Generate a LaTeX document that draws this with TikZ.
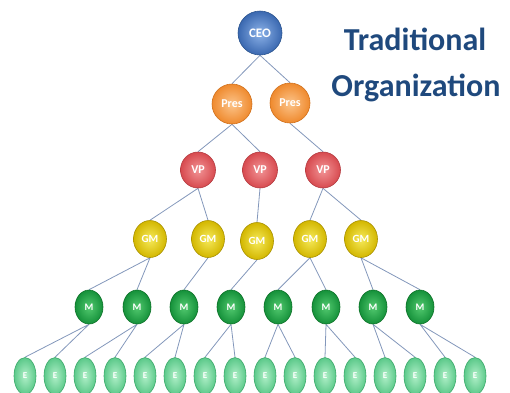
\documentclass[tikz,border=0pt]{standalone}
\usepackage{fontspec}
\setmainfont{Carlito}
\usetikzlibrary{shapes.geometric,backgrounds}
\definecolor{titleblue}{HTML}{1F497D}
\definecolor{linkblue}{HTML}{8397BB}
\definecolor{ceoA}{HTML}{8CB2E8}\definecolor{ceoB}{HTML}{3A68B0}\definecolor{ceoC}{HTML}{2C558F}
\definecolor{presA}{HTML}{FCC48A}\definecolor{presB}{HTML}{EF8A2E}\definecolor{presC}{HTML}{D0701C}
\definecolor{vpA}{HTML}{F29496}\definecolor{vpB}{HTML}{D74A4F}\definecolor{vpC}{HTML}{B33A3F}
\definecolor{gmA}{HTML}{F6EA5A}\definecolor{gmB}{HTML}{D3B700}\definecolor{gmC}{HTML}{A89100}
\definecolor{mA}{HTML}{52C96F}\definecolor{mB}{HTML}{15913A}\definecolor{mC}{HTML}{0E7229}
\definecolor{eA}{HTML}{B0EFC8}\definecolor{eB}{HTML}{5CC98A}\definecolor{eC}{HTML}{3DAA6C}
\tikzset{
  orgnode/.style={ellipse, inner sep=0pt, text=white, font=\bfseries},
  ceobox/.style={orgnode, minimum width=44pt, minimum height=44pt,
    inner color=ceoA, outer color=ceoB, draw=ceoC, line width=0.6pt, font=\bfseries\fontsize{13}{13}\selectfont},
  presbox/.style={orgnode, minimum width=40pt, minimum height=40pt,
    inner color=presA, outer color=presB, draw=presC, line width=0.6pt, font=\bfseries\fontsize{12}{12}\selectfont},
  vpbox/.style={orgnode, minimum width=35pt, minimum height=36pt,
    inner color=vpA, outer color=vpB, draw=vpC, line width=0.6pt, font=\bfseries\fontsize{12}{12}\selectfont},
  gmbox/.style={orgnode, minimum width=33pt, minimum height=37pt,
    inner color=gmA, outer color=gmB, draw=gmC, line width=0.6pt, font=\bfseries\fontsize{11}{11}\selectfont},
  mbox/.style={orgnode, minimum width=28pt, minimum height=34pt,
    inner color=mA, outer color=mB, draw=mC, line width=0.6pt, font=\bfseries\fontsize{10}{10}\selectfont},
  ebox/.style={orgnode, minimum width=22pt, minimum height=37pt,
    inner color=eA, outer color=eB, draw=eC, line width=0.6pt, font=\bfseries\fontsize{9}{9}\selectfont},
  link/.style={draw=linkblue, line width=0.8pt},
  titletext/.style={text=titleblue, font=\bfseries\fontsize{32}{32}\selectfont, anchor=base, inner sep=0pt}
}
\begin{document}
\begin{tikzpicture}[x=1pt,y=-1pt]
\useasboundingbox (0,0) rectangle (510,392);

% title
\node[titletext] (t1) at (415,50) {Traditional};
\node[titletext] (t2) at (416,96) {Organization};

% levels of the hierarchy
\node[ceobox] (ceo) at (260,33) {CEO};
\node[presbox] (p1) at (232,104) {Pres};
\node[presbox] (p2) at (290,103) {Pres};

\node[vpbox] (v1) at (198,170) {VP};
\node[vpbox] (v2) at (260,170) {VP};
\node[vpbox] (v3) at (323,170) {VP};

\node[gmbox] (g1) at (150,239) {GM};
\node[gmbox] (g2) at (208,239) {GM};
\node[gmbox] (g3) at (257,241) {GM};
\node[gmbox] (g4) at (310,239) {GM};
\node[gmbox] (g5) at (361,239) {GM};

\foreach \i/\x in {1/89,2/137,3/184,4/231,5/278,6/326,7/373,8/420}
  \node[mbox] (m\i) at (\x,307) {M};

\foreach \i in {1,...,16}
  \node[ebox] (e\i) at ({25+30*(\i-1)},376) {E};

% reporting lines, behind the nodes
\begin{scope}[on background layer]
\draw[link] (ceo.south) -- (p1.north) (ceo.south) -- (p2.north);
\draw[link] (p1.south) -- (v1.north) (p1.south) -- (v2.north);
\draw[link] (p2.south) -- (v3.north);
\draw[link] (v1.south) -- (g1.north) (v1.south) -- (g2.north);
\draw[link] (v2.south) -- (g3.north);
\draw[link] (v3.south) -- (g4.north) (v3.south) -- (g5.north);
\draw[link] (g1.south) -- (m1.north) (g1.south) -- (m2.north);
\draw[link] (g2.south) -- (m3.north);
\draw[link] (g3.south) -- (m4.north);
\draw[link] (g4.south) -- (m5.north) (g4.south) -- (m6.north);
\draw[link] (g5.south) -- (m7.north) (g5.south) -- (m8.north);
\foreach \i in {1,...,8}{
  \pgfmathtruncatemacro{\a}{2*\i-1}
  \pgfmathtruncatemacro{\b}{2*\i}
  \draw[link] (m\i.south) -- (e\a.north) (m\i.south) -- (e\b.north);
}
\end{scope}
\end{tikzpicture}
\end{document}
